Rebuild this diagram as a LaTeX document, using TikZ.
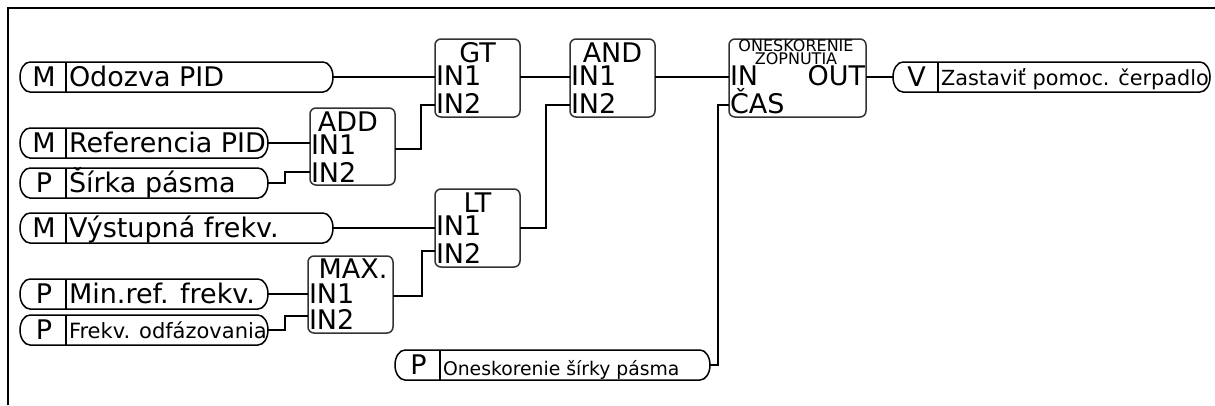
\documentclass[tikz,border=0pt]{standalone}
\usepackage{fontspec}
\setmainfont{DejaVu Sans}
\newcommand\bigf{\fontsize{27}{31}\selectfont}
\newcommand\mypill[9]{%
  \node[inner sep=0, outer sep=0, minimum height=30pt, minimum width={(#3-#2)*1pt}, anchor=west] (#1) at (#2,-#4) {};
  \draw[pillline] ([xshift=10pt]#1.north west) -- ([xshift=-10pt]#1.north east)
     arc[start angle=90, end angle=-90, x radius=10pt, y radius=15pt]
     -- ([xshift=10pt]#1.south west)
     arc[start angle=270, end angle=90, x radius=10pt, y radius=15pt] -- cycle;
  \draw[pillline] (#5,{-#4+15}) -- (#5,{-#4-15});
  \node[txt, font=\bigf, anchor=base] (#1-l) at ({(#2+#5)/2+1},{-#4-9}) {#6};
  \node[txt, font=#7, anchor=base west] (#1-t) at ({#5+3},{-#4-#9}) {#8};
}
\newcommand\myblk[5]{%
  \node[blk, minimum width={(#3-#2)*1pt}, minimum height={(#5-#4)*1pt}] (#1) at (#2,-#4) {};
}
\begin{document}
\begin{tikzpicture}[x=1pt,y=1pt,line width=1.5pt,
  txt/.style={inner sep=0, outer sep=0},
  caps/.style={txt, font=\bigf, text height=19.5pt, text depth=0pt},
  smallcaps/.style={txt, font=\fontsize{16}{18}\selectfont, text height=11.5pt, text depth=0pt},
  pillline/.style={draw=black, line width=1.5pt},
  blk/.style={draw=black!80, line width=1.5pt, rounded corners=6pt, inner sep=0, outer sep=0, anchor=north west},
  conn/.style={draw=black, line width=1.5pt}]
\useasboundingbox (0,0) rectangle (1215,-405);
% frame
\draw[line width=1.6pt] (8,-405) -- (8,-8) -- (1215,-8);

% pills
\mypill{odozva}{20}{333}{77}{66}{M}{\bigf}{Odozva PID}{9}
\mypill{refpid}{20}{268}{143}{66}{M}{\bigf}{Referencia PID}{9}
\mypill{sirka}{20}{268}{183}{66}{P}{\bigf}{Šírka pásma}{9}
\mypill{vystup}{20}{333}{228}{66}{M}{\bigf}{Výstupná frekv.}{9}
\mypill{minref}{20}{268}{294}{66}{P}{\bigf}{Min.ref. frekv.}{9}
\mypill{frekv}{20}{268}{330}{66}{P}{\fontsize{21}{25}\selectfont}{Frekv. odfázovania}{8}
\mypill{onesk}{395}{710}{365}{440}{P}{\fontsize{18.8}{22}\selectfont}{Oneskorenie šírky pásma}{10}
\mypill{zast}{893}{1210}{77}{938}{V}{\fontsize{20.8}{24}\selectfont}{Zastaviť pomoc. čerpadlo}{8}

% blocks
\myblk{add}{310}{395}{108}{185}
\myblk{max}{308}{393}{256}{333}
\myblk{gt}{435}{520}{39}{117}
\myblk{lt}{435}{520}{189}{267}
\myblk{and}{570}{655}{39}{117}
\myblk{dly}{729}{866}{39}{117}

% block texts
\node[caps, anchor=base] (add-t) at (348,-131) {ADD};
\node[caps, anchor=base west] (add-1) at (311,-154) {IN1};
\node[caps, anchor=base west] (add-2) at (311,-182) {IN2};
\node[caps, anchor=base] (max-t) at (353,-278) {MAX.};
\node[caps, anchor=base west] (max-1) at (309,-303) {IN1};
\node[caps, anchor=base west] (max-2) at (309,-329) {IN2};
\node[caps, anchor=base] (gt-t) at (477.5,-62) {GT};
\node[caps, anchor=base west] (gt-1) at (436,-85) {IN1};
\node[caps, anchor=base west] (gt-2) at (436,-113) {IN2};
\node[caps, anchor=base] (lt-t) at (477.5,-212) {LT};
\node[caps, anchor=base west] (lt-1) at (436,-235) {IN1};
\node[caps, anchor=base west] (lt-2) at (436,-263) {IN2};
\node[caps, anchor=base] (and-t) at (612.5,-62) {AND};
\node[caps, anchor=base west] (and-1) at (571,-85) {IN1};
\node[caps, anchor=base west] (and-2) at (571,-113) {IN2};
\node[smallcaps, anchor=base] (dly-t1) at (796,-51.5) {ONESKORENIE};
\node[smallcaps, anchor=base] (dly-t2) at (796,-64) {ZOPNUTIA};
\node[caps, anchor=base west] (dly-1) at (730,-85) {IN};
\node[caps, anchor=base east] (dly-o) at (865,-85) {OUT};
\node[caps, anchor=base west] (dly-2) at (730,-113) {ČAS};

% ports
\coordinate (gt-in1) at (435,-77);
\coordinate (gt-in2) at (435,-105);
\coordinate (gt-out) at (520,-77);
\coordinate (and-in1) at (570,-77);
\coordinate (and-in2) at (570,-105);
\coordinate (and-out) at (655,-77);
\coordinate (dly-in) at (729,-77);
\coordinate (dly-cas) at (729,-105);
\coordinate (dly-out) at (866,-77);
\coordinate (add-in1) at (310,-143);
\coordinate (add-in2) at (310,-172);
\coordinate (add-out) at (395,-149);
\coordinate (lt-in1) at (435,-228);
\coordinate (lt-in2) at (435,-251);
\coordinate (lt-out) at (520,-228);
\coordinate (max-in1) at (308,-294);
\coordinate (max-in2) at (308,-316);
\coordinate (max-out) at (393,-296);

% connectors
\draw[conn] (odozva.east) -- (gt-in1);
\draw[conn] (refpid.east) -- (add-in1);
\draw[conn] (sirka.east) -- ++(17,0) |- (add-in2);
\draw[conn] (add-out) -- ++(26,0) |- (gt-in2);
\draw[conn] (gt-out) -- (and-in1);
\draw[conn] (vystup.east) -- (lt-in1);
\draw[conn] (minref.east) -- (max-in1);
\draw[conn] (frekv.east) -- ++(17,0) |- (max-in2);
\draw[conn] (max-out) -- ++(29,0) |- (lt-in2);
\draw[conn] (lt-out) -- ++(26,0) |- (and-in2);
\draw[conn] (and-out) -- (dly-in);
\draw[conn] (dly-out) -- (zast.west);
\draw[conn] (onesk.east) -- ++(8,0) |- (dly-cas);
\end{tikzpicture}
\end{document}
